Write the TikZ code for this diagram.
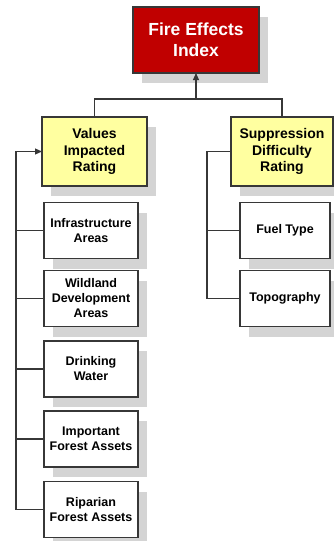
\documentclass[tikz,border=0pt]{standalone}
\usepackage{fontspec}
\setmainfont{Liberation Sans}
\usetikzlibrary{arrows.meta,shadows}
\definecolor{firered}{RGB}{192,0,0}
\definecolor{boxyellow}{RGB}{255,255,160}
\definecolor{edge}{RGB}{55,55,55}
\definecolor{shade}{RGB}{212,212,212}
\begin{document}
\begin{tikzpicture}[x=1pt,y=-1pt,
  base/.style={draw=edge, line width=1.2pt, inner sep=0pt, outer sep=0pt, align=center,
    font=\bfseries, drop shadow={shadow xshift=9pt, shadow yshift=-10pt, fill=shade, opacity=1}},
  topbox/.style={base, fill=firered, text=white, minimum width=126pt, minimum height=66pt,
    font=\fontsize{17.5}{21}\selectfont\bfseries},
  midbox/.style={base, fill=boxyellow, minimum height=69pt,
    font=\fontsize{14}{16.8}\selectfont\bfseries},
  leafbox/.style={base, fill=white, minimum height=56pt,
    font=\fontsize{12.5}{15}\selectfont\bfseries},
  conn/.style={draw=edge, line width=1.1pt},
  tip/.style={-{Triangle[length=7pt,width=6pt]}}
]
\useasboundingbox (0,0) rectangle (334,541);
\node[topbox] (fei) at (196,40) {Fire Effects\\Index};
\node[midbox, minimum width=105pt] (vir) at (94.5,151.5) {Values\\Impacted\\Rating};
\node[midbox, minimum width=102pt] (sdr) at (282,151.5) {Suppression\\Difficulty\\Rating};
\node[leafbox, minimum width=94pt] (inf) at (91,230.5) {Infrastructure\\Areas};
\node[leafbox, minimum width=94pt] (wil) at (91,298.5) {Wildland\\Development\\Areas};
\node[leafbox, minimum width=94pt] (dri) at (91,369) {Drinking\\Water};
\node[leafbox, minimum width=94pt] (imp) at (91,439) {Important\\Forest Assets};
\node[leafbox, minimum width=94pt] (rip) at (91,509.5) {Riparian\\Forest Assets};
\node[leafbox, minimum width=90pt] (fuel) at (285,230.5) {Fuel Type};
\node[leafbox, minimum width=90pt] (topo) at (285,298.5) {Topography};
\coordinate (j) at (196,99);
\coordinate (lbus) at (16,151.5);
\coordinate (rbus) at (207,151.5);
\draw[conn] (vir.north) |- (j) -| (sdr.north);
\draw[conn,tip] (j) -- (fei.south);
\draw[conn,tip] (rip.west) -| (lbus) -- (vir.west);
\draw[conn] (inf.west) -- (inf.west -| lbus);
\draw[conn] (wil.west) -- (wil.west -| lbus);
\draw[conn] (dri.west) -- (dri.west -| lbus);
\draw[conn] (imp.west) -- (imp.west -| lbus);
\draw[conn] (topo.west) -| (rbus) -- (sdr.west);
\draw[conn] (fuel.west) -- (fuel.west -| rbus);
\end{tikzpicture}
\end{document}
